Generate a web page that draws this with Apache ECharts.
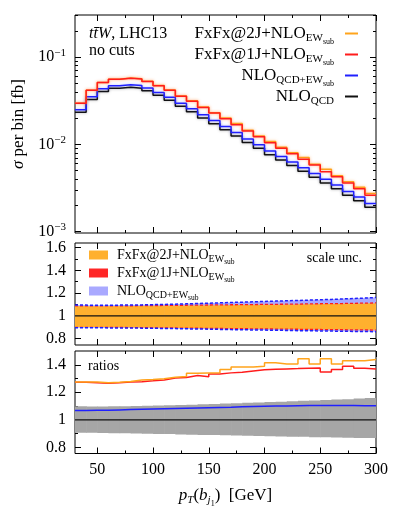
<!DOCTYPE html>
<html>
<head>
<meta charset="utf-8">
<script src="https://cdn.jsdelivr.net/npm/echarts@6/dist/echarts.min.js"></script>
<style>
  html, body { margin: 0; padding: 0; background: #fff; }
  #main { width: 395px; height: 513px; }
</style>
</head>
<body>
<div id="main"></div>
<script>
// bin edges in GeV (10 GeV bins)
const binEdges = [30, 40, 50, 60, 70, 80, 90, 100, 110, 120, 130, 140, 150, 160, 170,
  180, 190, 200, 210, 220, 230, 240, 250, 260, 270, 280, 290, 300];

// sigma per bin [fb], main panel
const nloQcd = [0.0233, 0.0328, 0.0405, 0.0439, 0.0451, 0.0439, 0.0411, 0.0365, 0.0320,
  0.0273, 0.0236, 0.0201, 0.0172, 0.0147, 0.0125, 0.0105, 0.0090, 0.0076, 0.0066, 0.0057,
  0.0049, 0.0042, 0.0036, 0.0031, 0.0026, 0.00225, 0.0019];
const nloQcdEw = [0.0249, 0.0351, 0.0433, 0.0471, 0.0484, 0.0472, 0.0443, 0.0394, 0.0346,
  0.0296, 0.0256, 0.0219, 0.01875, 0.01605, 0.01369, 0.01152, 0.00989, 0.00836, 0.00727,
  0.00628, 0.0054, 0.00464, 0.00397, 0.00342, 0.00287, 0.00248, 0.00209];
const fxfx1j = [0.0296, 0.0417, 0.0512, 0.0558, 0.0575, 0.0561, 0.0527, 0.0471, 0.0417,
  0.0357, 0.0312, 0.0264, 0.0229, 0.0197, 0.0168, 0.0142, 0.0122, 0.0104, 0.00904, 0.00782,
  0.00674, 0.00578, 0.00486, 0.00425, 0.00361, 0.00309, 0.00261];
const fxfx2j = [0.0297, 0.0418, 0.0514, 0.0558, 0.0576, 0.0566, 0.0531, 0.0474, 0.0419,
  0.0359, 0.0316, 0.0269, 0.0231, 0.0201, 0.0173, 0.0145, 0.0125, 0.01075, 0.00928, 0.00801,
  0.00707, 0.00591, 0.00519, 0.00436, 0.00372, 0.00322, 0.00273];

// scale uncertainty, normalised to each central value
const unc2jUp = [1.086, 1.085, 1.085, 1.086, 1.086, 1.087, 1.088, 1.089, 1.090, 1.091, 1.092,
  1.093, 1.094, 1.095, 1.096, 1.097, 1.098, 1.099, 1.100, 1.101, 1.103, 1.104, 1.105, 1.106,
  1.108, 1.109, 1.111];
const unc2jDn = [0.902, 0.902, 0.901, 0.901, 0.900, 0.899, 0.898, 0.897, 0.896, 0.895, 0.894,
  0.893, 0.892, 0.891, 0.890, 0.889, 0.888, 0.887, 0.886, 0.885, 0.884, 0.883, 0.882, 0.881,
  0.880, 0.879, 0.878];
const unc1jUp = [1.088, 1.088, 1.088, 1.089, 1.089, 1.090, 1.091, 1.092, 1.093, 1.094, 1.095,
  1.096, 1.097, 1.098, 1.099, 1.100, 1.101, 1.102, 1.103, 1.104, 1.106, 1.107, 1.108, 1.109,
  1.111, 1.112, 1.114];
const unc1jDn = [0.900, 0.900, 0.899, 0.899, 0.898, 0.897, 0.896, 0.895, 0.894, 0.893, 0.892,
  0.891, 0.890, 0.889, 0.888, 0.887, 0.886, 0.885, 0.884, 0.883, 0.882, 0.881, 0.880, 0.879,
  0.878, 0.877, 0.876];
const uncEwUp = [1.095, 1.094, 1.094, 1.095, 1.096, 1.097, 1.099, 1.101, 1.103, 1.106, 1.109,
  1.112, 1.115, 1.118, 1.121, 1.124, 1.127, 1.130, 1.133, 1.136, 1.139, 1.142, 1.145, 1.149,
  1.153, 1.157, 1.162];
const uncEwDn = [0.896, 0.896, 0.895, 0.895, 0.894, 0.893, 0.892, 0.890, 0.889, 0.887, 0.885,
  0.884, 0.882, 0.880, 0.879, 0.877, 0.876, 0.874, 0.873, 0.871, 0.870, 0.868, 0.867, 0.866,
  0.864, 0.863, 0.862];

// ratios to NLO_QCD
const ratioEw = [1.068, 1.069, 1.070, 1.072, 1.074, 1.076, 1.078, 1.080, 1.082, 1.084, 1.086,
  1.088, 1.090, 1.092, 1.095, 1.097, 1.099, 1.100, 1.101, 1.102, 1.103, 1.104, 1.104, 1.103,
  1.103, 1.102, 1.102];
const ratio1j = [1.272, 1.270, 1.265, 1.270, 1.275, 1.277, 1.283, 1.290, 1.303, 1.308, 1.322,
  1.312, 1.332, 1.341, 1.345, 1.355, 1.363, 1.368, 1.370, 1.372, 1.375, 1.376, 1.348, 1.366,
  1.390, 1.375, 1.370];
const ratio2j = [1.275, 1.275, 1.270, 1.272, 1.278, 1.290, 1.293, 1.298, 1.310, 1.315, 1.338,
  1.340, 1.342, 1.365, 1.383, 1.383, 1.390, 1.414, 1.406, 1.406, 1.443, 1.406, 1.443, 1.406,
  1.430, 1.430, 1.438];
const qcdUp = [1.098, 1.097, 1.097, 1.098, 1.099, 1.100, 1.102, 1.104, 1.106, 1.108, 1.110,
  1.113, 1.115, 1.118, 1.120, 1.123, 1.126, 1.129, 1.132, 1.135, 1.138, 1.141, 1.144, 1.147,
  1.150, 1.155, 1.158];
const qcdDn = [0.905, 0.905, 0.904, 0.903, 0.902, 0.901, 0.899, 0.897, 0.896, 0.894, 0.892,
  0.890, 0.889, 0.887, 0.885, 0.884, 0.882, 0.880, 0.879, 0.877, 0.876, 0.874, 0.873, 0.871,
  0.870, 0.868, 0.867];

// ticks
const xMajor = [50, 100, 150, 200, 250, 300];
const xMinor = [75, 125, 175, 225, 275];
const logMajor = [0.001, 0.01, 0.1];
const logMinor = [0.002, 0.003, 0.004, 0.005, 0.006, 0.007, 0.008, 0.009,
  0.02, 0.03, 0.04, 0.05, 0.06, 0.07, 0.08, 0.09, 0.2, 0.3];
const midMajor = [0.8, 1, 1.2, 1.4, 1.6];
const midMinor = [0.9, 1.1, 1.3, 1.5];
const lowMajor = [0.8, 1, 1.2, 1.4];
const lowMinor = [0.9, 1.1, 1.3];

const FONT = 'Liberation Serif';
const ORANGE = '#ffa41c', RED = '#ff1c1c', BLUE = '#2020ff', BLACK = '#111111';

const chart = echarts.init(document.getElementById('main'));

function steps(vals) {
  const pts = vals.map((v, i) => [binEdges[i], v]);
  pts.push([binEdges[binEdges.length - 1], vals[vals.length - 1]]);
  return pts;
}

const subRich = {
  m: { fontFamily: FONT, fontSize: 17, color: '#000' },
  s: { fontFamily: FONT, fontSize: 11, color: '#000', padding: [10, 0, 0, 0] },
  ss: { fontFamily: FONT, fontSize: 8, color: '#000', padding: [17, 0, 0, 0] },
  gap: { width: 6 }
};
const subRichSmall = {
  m: { fontFamily: FONT, fontSize: 14, color: '#000' },
  s: { fontFamily: FONT, fontSize: 10, color: '#000', padding: [8, 0, 0, 0] },
  ss: { fontFamily: FONT, fontSize: 7.5, color: '#000', padding: [14, 0, 0, 0] },
  gap: { width: 4 }
};
const legendText = {
  'FxFx@2J': '{m|FxFx@2J+NLO}{s|EW}{ss|sub}',
  'FxFx@1J': '{m|FxFx@1J+NLO}{s|EW}{ss|sub}',
  'NLO QCD+EW': '{m|NLO}{s|QCD+EW}{ss|sub}',
  'NLO QCD': '{m|NLO}{s|QCD}'
};

// 4 x-axes per grid: bottom major/minor, top major/minor
function xAxesFor(gi, withLabels) {
  const base = {
    type: 'value', gridIndex: gi, min: 30, max: 300,
    axisLine: { show: false, onZero: false }, splitLine: { show: false }
  };
  const tick = (vals, len) => ({ show: true, inside: true, length: len, customValues: vals,
    lineStyle: { color: '#000', width: 1 } });
  const out = [
    Object.assign({}, base, { position: 'bottom', axisTick: tick(xMajor, 6),
      axisLabel: { show: withLabels, customValues: xMajor, margin: 8, color: '#000',
        fontFamily: FONT, fontSize: 16 } }),
    Object.assign({}, base, { position: 'bottom', axisTick: tick(xMinor, 3), axisLabel: { show: false } }),
    Object.assign({}, base, { position: 'top', axisTick: tick(xMajor, 6), axisLabel: { show: false } }),
    Object.assign({}, base, { position: 'top', axisTick: tick(xMinor, 3), axisLabel: { show: false } })
  ];
  if (withLabels) {
    out[0].name = '{i|p}{si|T}{n|(}{i|b}{si|j}{ss|1}{n|)  [GeV]}';
    out[0].nameLocation = 'middle';
    out[0].nameGap = 30;
    out[0].nameTextStyle = {
      rich: {
        i: { fontFamily: FONT, fontSize: 17, fontStyle: 'italic', color: '#000' },
        n: { fontFamily: FONT, fontSize: 17, color: '#000' },
        si: { fontFamily: FONT, fontSize: 11, fontStyle: 'italic', color: '#000', padding: [9, 0, 0, 0] },
        ss: { fontFamily: FONT, fontSize: 8, color: '#000', padding: [16, 0, 0, 0] }
      }
    };
  }
  return out;
}

function yAxesFor(gi, type, min, max, major, minor, fmt) {
  const base = {
    type: type, gridIndex: gi, min: min, max: max,
    axisLine: { show: false, onZero: false }, splitLine: { show: false }
  };
  const tick = (vals, len) => ({ show: true, inside: true, length: len, customValues: vals,
    lineStyle: { color: '#000', width: 1 } });
  const label = { show: true, customValues: major, margin: 9, color: '#000',
    fontFamily: FONT, fontSize: 16 };
  if (fmt) Object.assign(label, fmt);
  return [
    Object.assign({}, base, { position: 'left', axisTick: tick(major, 6), axisLabel: label }),
    Object.assign({}, base, { position: 'left', axisTick: tick(minor, 3), axisLabel: { show: false } }),
    Object.assign({}, base, { position: 'right', axisTick: tick(major, 6), axisLabel: { show: false } }),
    Object.assign({}, base, { position: 'right', axisTick: tick(minor, 3), axisLabel: { show: false } })
  ];
}

const logFmt = {
  formatter: v => '{n|10}{sup|−' + Math.abs(Math.round(Math.log10(v))) + '}',
  rich: {
    n: { fontFamily: FONT, fontSize: 16, color: '#000' },
    sup: { fontFamily: FONT, fontSize: 11, color: '#000', padding: [0, 0, 9, 0] }
  }
};

const yAxes = [].concat(
  yAxesFor(0, 'log', 0.00096, 0.305, logMajor, logMinor, logFmt),
  yAxesFor(1, 'value', 0.745, 1.64, midMajor, midMinor),
  yAxesFor(2, 'value', 0.755, 1.5, lowMajor, lowMinor)
);
yAxes[0].name = '{i|σ}{n| per bin [fb]}';
yAxes[0].nameLocation = 'middle';
yAxes[0].nameGap = 43;
yAxes[0].nameTextStyle = {
  rich: {
    i: { fontFamily: FONT, fontSize: 17, fontStyle: 'italic', color: '#000' },
    n: { fontFamily: FONT, fontSize: 17, color: '#000' }
  }
};

function histLine(name, vals, color, gi, extra) {
  return Object.assign({
    name: name, type: 'line', step: 'end', data: steps(vals), symbol: 'none',
    xAxisIndex: gi * 4, yAxisIndex: gi * 4, silent: true,
    lineStyle: { color: color, width: 1.5 }, itemStyle: { color: color }
  }, extra || {});
}

// uncertainty band: one filled rect per bin, placed through the axes
function band(name, lo, hi, color, gi) {
  return {
    name: name, type: 'custom', silent: true, clip: true,
    xAxisIndex: gi * 4, yAxisIndex: gi * 4,
    itemStyle: { color: color },
    encode: { x: [0, 1], y: [2, 3] },
    data: lo.map((l, i) => [binEdges[i], binEdges[i + 1], l, hi[i]]),
    renderItem: (params, api) => {
      const a = api.coord([api.value(0), api.value(3)]);
      const b = api.coord([api.value(1), api.value(2)]);
      // small overlap so neighbouring bins do not leave white seams
      return { type: 'rect', shape: { x: a[0], y: a[1], width: b[0] - a[0] + 0.6, height: b[1] - a[1] },
        style: { fill: color } };
    }
  };
}

function flat(gi) {
  return { type: 'line', data: [[30, 1], [300, 1]], symbol: 'none', silent: true,
    xAxisIndex: gi * 4, yAxisIndex: gi * 4, lineStyle: { color: BLACK, width: 1.2 } };
}

const halo = c => ({ shadowColor: c, shadowBlur: 3 });

const series = [
  // main panel
  histLine('NLO QCD', nloQcd, BLACK, 0, { lineStyle: Object.assign({ color: BLACK, width: 1.5 }, halo('rgba(0,0,0,0.35)')) }),
  histLine('NLO QCD+EW', nloQcdEw, BLUE, 0, { lineStyle: Object.assign({ color: BLUE, width: 1.5 }, halo('rgba(80,80,255,0.4)')) }),
  histLine('FxFx@2J', fxfx2j, ORANGE, 0, { lineStyle: Object.assign({ color: ORANGE, width: 1.5 }, halo('rgba(255,170,40,0.5)')) }),
  histLine('FxFx@1J', fxfx1j, RED, 0, { lineStyle: Object.assign({ color: RED, width: 1.5 }, halo('rgba(255,60,60,0.35)')) }),
  // scale uncertainty panel
  band('uncEw', uncEwDn, uncEwUp, '#a9a9ff', 1),
  band('unc2j', unc2jDn, unc2jUp, '#ffb02e', 1),
  histLine('unc1j', unc1jUp, RED, 1, { lineStyle: { color: RED, width: 1.3, type: [3, 2] } }),
  histLine('unc1j-dn', unc1jDn, RED, 1, { lineStyle: { color: RED, width: 1.3, type: [3, 2] } }),
  histLine('uncEw-up', uncEwUp, BLUE, 1, { lineStyle: { color: BLUE, width: 1.5, type: [3, 2] } }),
  histLine('uncEw-dn', uncEwDn, BLUE, 1, { lineStyle: { color: BLUE, width: 1.5, type: [3, 2] } }),
  flat(1),
  // ratio panel
  band('qcdBand', qcdDn, qcdUp, '#a6a6a6', 2),
  flat(2),
  histLine('r-ew', ratioEw, BLUE, 2),
  histLine('r-1j', ratio1j, RED, 2),
  histLine('r-2j', ratio2j, ORANGE, 2)
];

const option = {
  animation: false,
  backgroundColor: '#fff',
  grid: [
    { left: 75, right: 19, top: 15, height: 218, show: true, borderColor: '#000', borderWidth: 1, outerBoundsMode: 'none' },
    { left: 75, right: 19, top: 243, height: 102, show: true, borderColor: '#000', borderWidth: 1, outerBoundsMode: 'none' },
    { left: 75, right: 19, top: 351, height: 102.5, show: true, borderColor: '#000', borderWidth: 1, outerBoundsMode: 'none' }
  ],
  title: [
    { left: 84, top: 20, text: '{i|tt̄W}{n|, LHC13}\n{n|no cuts}',
      textStyle: { rich: {
        i: { fontFamily: FONT, fontSize: 16, fontStyle: 'italic', fontWeight: 'normal', color: '#000', lineHeight: 17 },
        n: { fontFamily: FONT, fontSize: 16, fontWeight: 'normal', color: '#000', lineHeight: 17 }
      } } },
    { right: 28, top: 246, text: 'scale unc.',
      textStyle: { fontFamily: FONT, fontSize: 14, fontWeight: 'normal', color: '#000' } },
    { left: 83, top: 354, text: 'ratios',
      textStyle: { fontFamily: FONT, fontSize: 14, fontWeight: 'normal', color: '#000' } }
  ],
  legend: [
    {
      data: ['FxFx@2J', 'FxFx@1J', 'NLO QCD+EW', 'NLO QCD'],
      orient: 'vertical', right: 32, top: 20, align: 'right', selectedMode: false,
      icon: 'rect', itemWidth: 13, itemHeight: 2, itemGap: 0,
      formatter: n => legendText[n] + '{gap|}',
      textStyle: { rich: subRich }
    },
    {
      data: [
        { name: 'unc2j', icon: 'rect', itemStyle: { color: '#ffb02e' } },
        { name: 'unc1j', icon: 'rect', itemStyle: { color: '#ff2626' } },
        { name: 'uncEw', icon: 'rect', itemStyle: { color: '#a9a9ff' } }
      ],
      orient: 'vertical', left: 84, top: 243, selectedMode: false,
      itemWidth: 19, itemHeight: 9, itemGap: 0,
      formatter: n => '{gap|}' + ({
        unc2j: '{m|FxFx@2J+NLO}{s|EW}{ss|sub}',
        unc1j: '{m|FxFx@1J+NLO}{s|EW}{ss|sub}',
        uncEw: '{m|NLO}{s|QCD+EW}{ss|sub}'
      })[n],
      textStyle: { rich: subRichSmall }
    }
  ],
  xAxis: [].concat(xAxesFor(0, false), xAxesFor(1, false), xAxesFor(2, true)),
  yAxis: yAxes,
  series: series
};

chart.setOption(option);
</script>
</body>
</html>
